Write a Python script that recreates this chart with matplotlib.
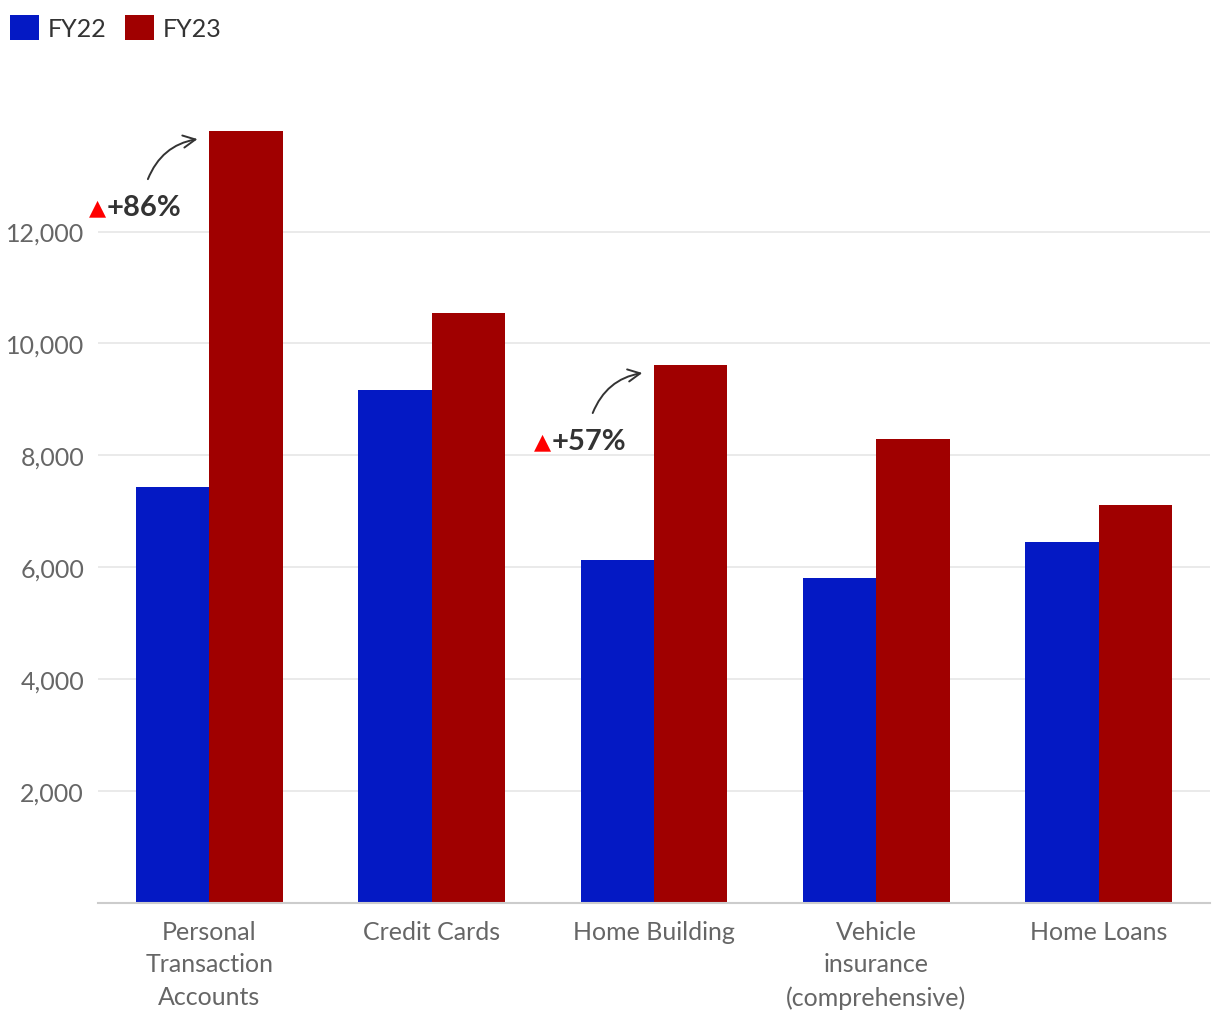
import matplotlib.pyplot as plt
import numpy as np

plt.rcParams['font.family'] = ['Lato', 'DejaVu Sans']

categories = ['Personal\nTransaction\nAccounts', 'Credit Cards', 'Home Building',
              'Vehicle\ninsurance\n(comprehensive)', 'Home Loans']
fy22 = [7430, 9160, 6125, 5800, 6450]
fy23 = [13790, 10550, 9610, 8300, 7110]

fig = plt.figure(figsize=(12.2, 10.2), dpi=100)
ax = fig.add_axes([0.0803, 0.1137, 0.9115, 0.779])

x = np.arange(len(categories))
w = 0.33
b1 = ax.bar(x - w / 2, fy22, w, color='#0419c4', label='FY22')
b2 = ax.bar(x + w / 2, fy23, w, color='#a00000', label='FY23')

ax.set_xlim(-0.5, 4.5)
ax.set_ylim(0, 14200)
ax.set_yticks([2000, 4000, 6000, 8000, 10000, 12000])
ax.set_yticklabels(['{:,}'.format(v) for v in [2000, 4000, 6000, 8000, 10000, 12000]])
ax.set_xticks(x)
ax.set_xticklabels(categories, linespacing=1.5)
ax.tick_params(axis='both', length=0, labelsize=18, colors='#666666')
ax.tick_params(axis='x', pad=12)
ax.tick_params(axis='y', pad=10)
ax.grid(axis='y', color='#e6e6e6', linewidth=1.2)
ax.set_axisbelow(True)
for s in ['top', 'right', 'left']:
    ax.spines[s].set_visible(False)
ax.spines['bottom'].set_color('#cccccc')
ax.spines['bottom'].set_linewidth(1.5)

# growth annotations
for i, pct in [(0, '+86%'), (2, '+57%')]:
    top = fy23[i]
    tx = i - 0.54
    ty = top - 1360
    ax.text(tx, ty, '▲', color='#ff0000', fontsize=16, va='center', ha='left',
            family=['DejaVu Sans'])
    ax.text(tx + 0.08, ty, pct, color='#333333', fontsize=21, fontweight='bold',
            va='center', ha='left')
    ax.annotate('', xy=(i - 0.04, top - 130), xytext=(i - 0.28, top - 900),
                arrowprops=dict(arrowstyle='->', color='#333333', lw=1.4,
                                connectionstyle='arc3,rad=-0.3',
                                mutation_scale=22))

fig.legend(handles=[b1, b2], loc='upper left', bbox_to_anchor=(0.0, 0.994),
           ncol=2, frameon=False, fontsize=18, handlelength=1.15, handleheight=1.15,
           handletextpad=0.35, columnspacing=0.75, borderaxespad=0.0,
           borderpad=0.4, labelcolor='#333333')

fig.savefig('out.png', dpi=100)
